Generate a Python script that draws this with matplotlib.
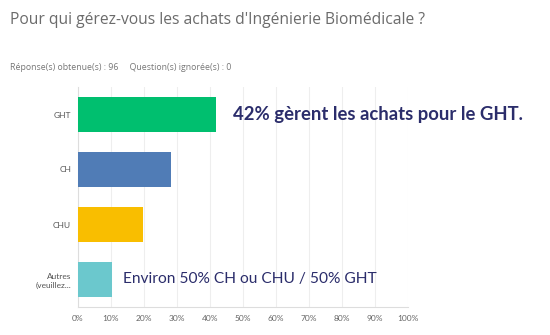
import matplotlib.pyplot as plt

# data (96 answers)
categories = ["GHT", "CH", "CHU", "Autres\n(veuillez..."]
values = [41.67, 28.13, 19.79, 10.42]
colors = ["#00BF6F", "#507CB6", "#F9BE00", "#6BC8CD"]
xticks = [0, 10, 20, 30, 40, 50, 60, 70, 80, 90, 100]
xticklabels = [f"{t}%" for t in xticks]

fig = plt.figure(figsize=(5.5, 3.35), dpi=100)
ax = fig.add_axes([78 / 550, 1 - 307 / 335, 330 / 550, 220 / 335])

ypos = list(range(len(categories)))
ax.barh(ypos, values, height=0.64, color=colors, zorder=3)

ax.set_xlim(0, 100)
ax.set_ylim(len(categories) - 0.5, -0.5)
ax.set_yticks(ypos)
ax.set_yticklabels(categories, fontsize=6, color="#555555", family="Lato", linespacing=1.3)
ax.set_xticks(xticks)
ax.set_xticklabels(xticklabels, fontsize=6, color="#666666", family="Lato")
ax.tick_params(length=0, pad=6)
ax.tick_params(axis="y", pad=5)

ax.grid(axis="x", color="#EEEEEE", linewidth=0.8, zorder=0)
for side in ["top", "right"]:
    ax.spines[side].set_visible(False)
for side in ["left", "bottom"]:
    ax.spines[side].set_color("#DDDDDD")
    ax.spines[side].set_linewidth(0.8)

# annotations written on top of the chart
ax.text(47, 0, "42% gèrent les achats pour le GHT.", fontsize=13.3, fontweight="bold",
        color="#2B2D6B", va="center", family="Lato", zorder=4)
ax.text(13.6, 3, "Environ 50% CH ou CHU / 50% GHT", fontsize=11.2,
        color="#2B2D6B", va="center", family="Lato", zorder=4)

fig.text(10 / 550, 1 - 20 / 335, "Pour qui gérez-vous les achats d'Ingénierie Biomédicale ?",
         fontsize=11.25, color="#6B6B6B", va="center", family="Open Sans")
fig.text(10 / 550, 1 - 68 / 335, "Réponse(s) obtenue(s) : 96     Question(s) ignorée(s) : 0",
         fontsize=6.3, color="#777777", va="center", family="Open Sans")

fig.savefig("out.png", dpi=100)
